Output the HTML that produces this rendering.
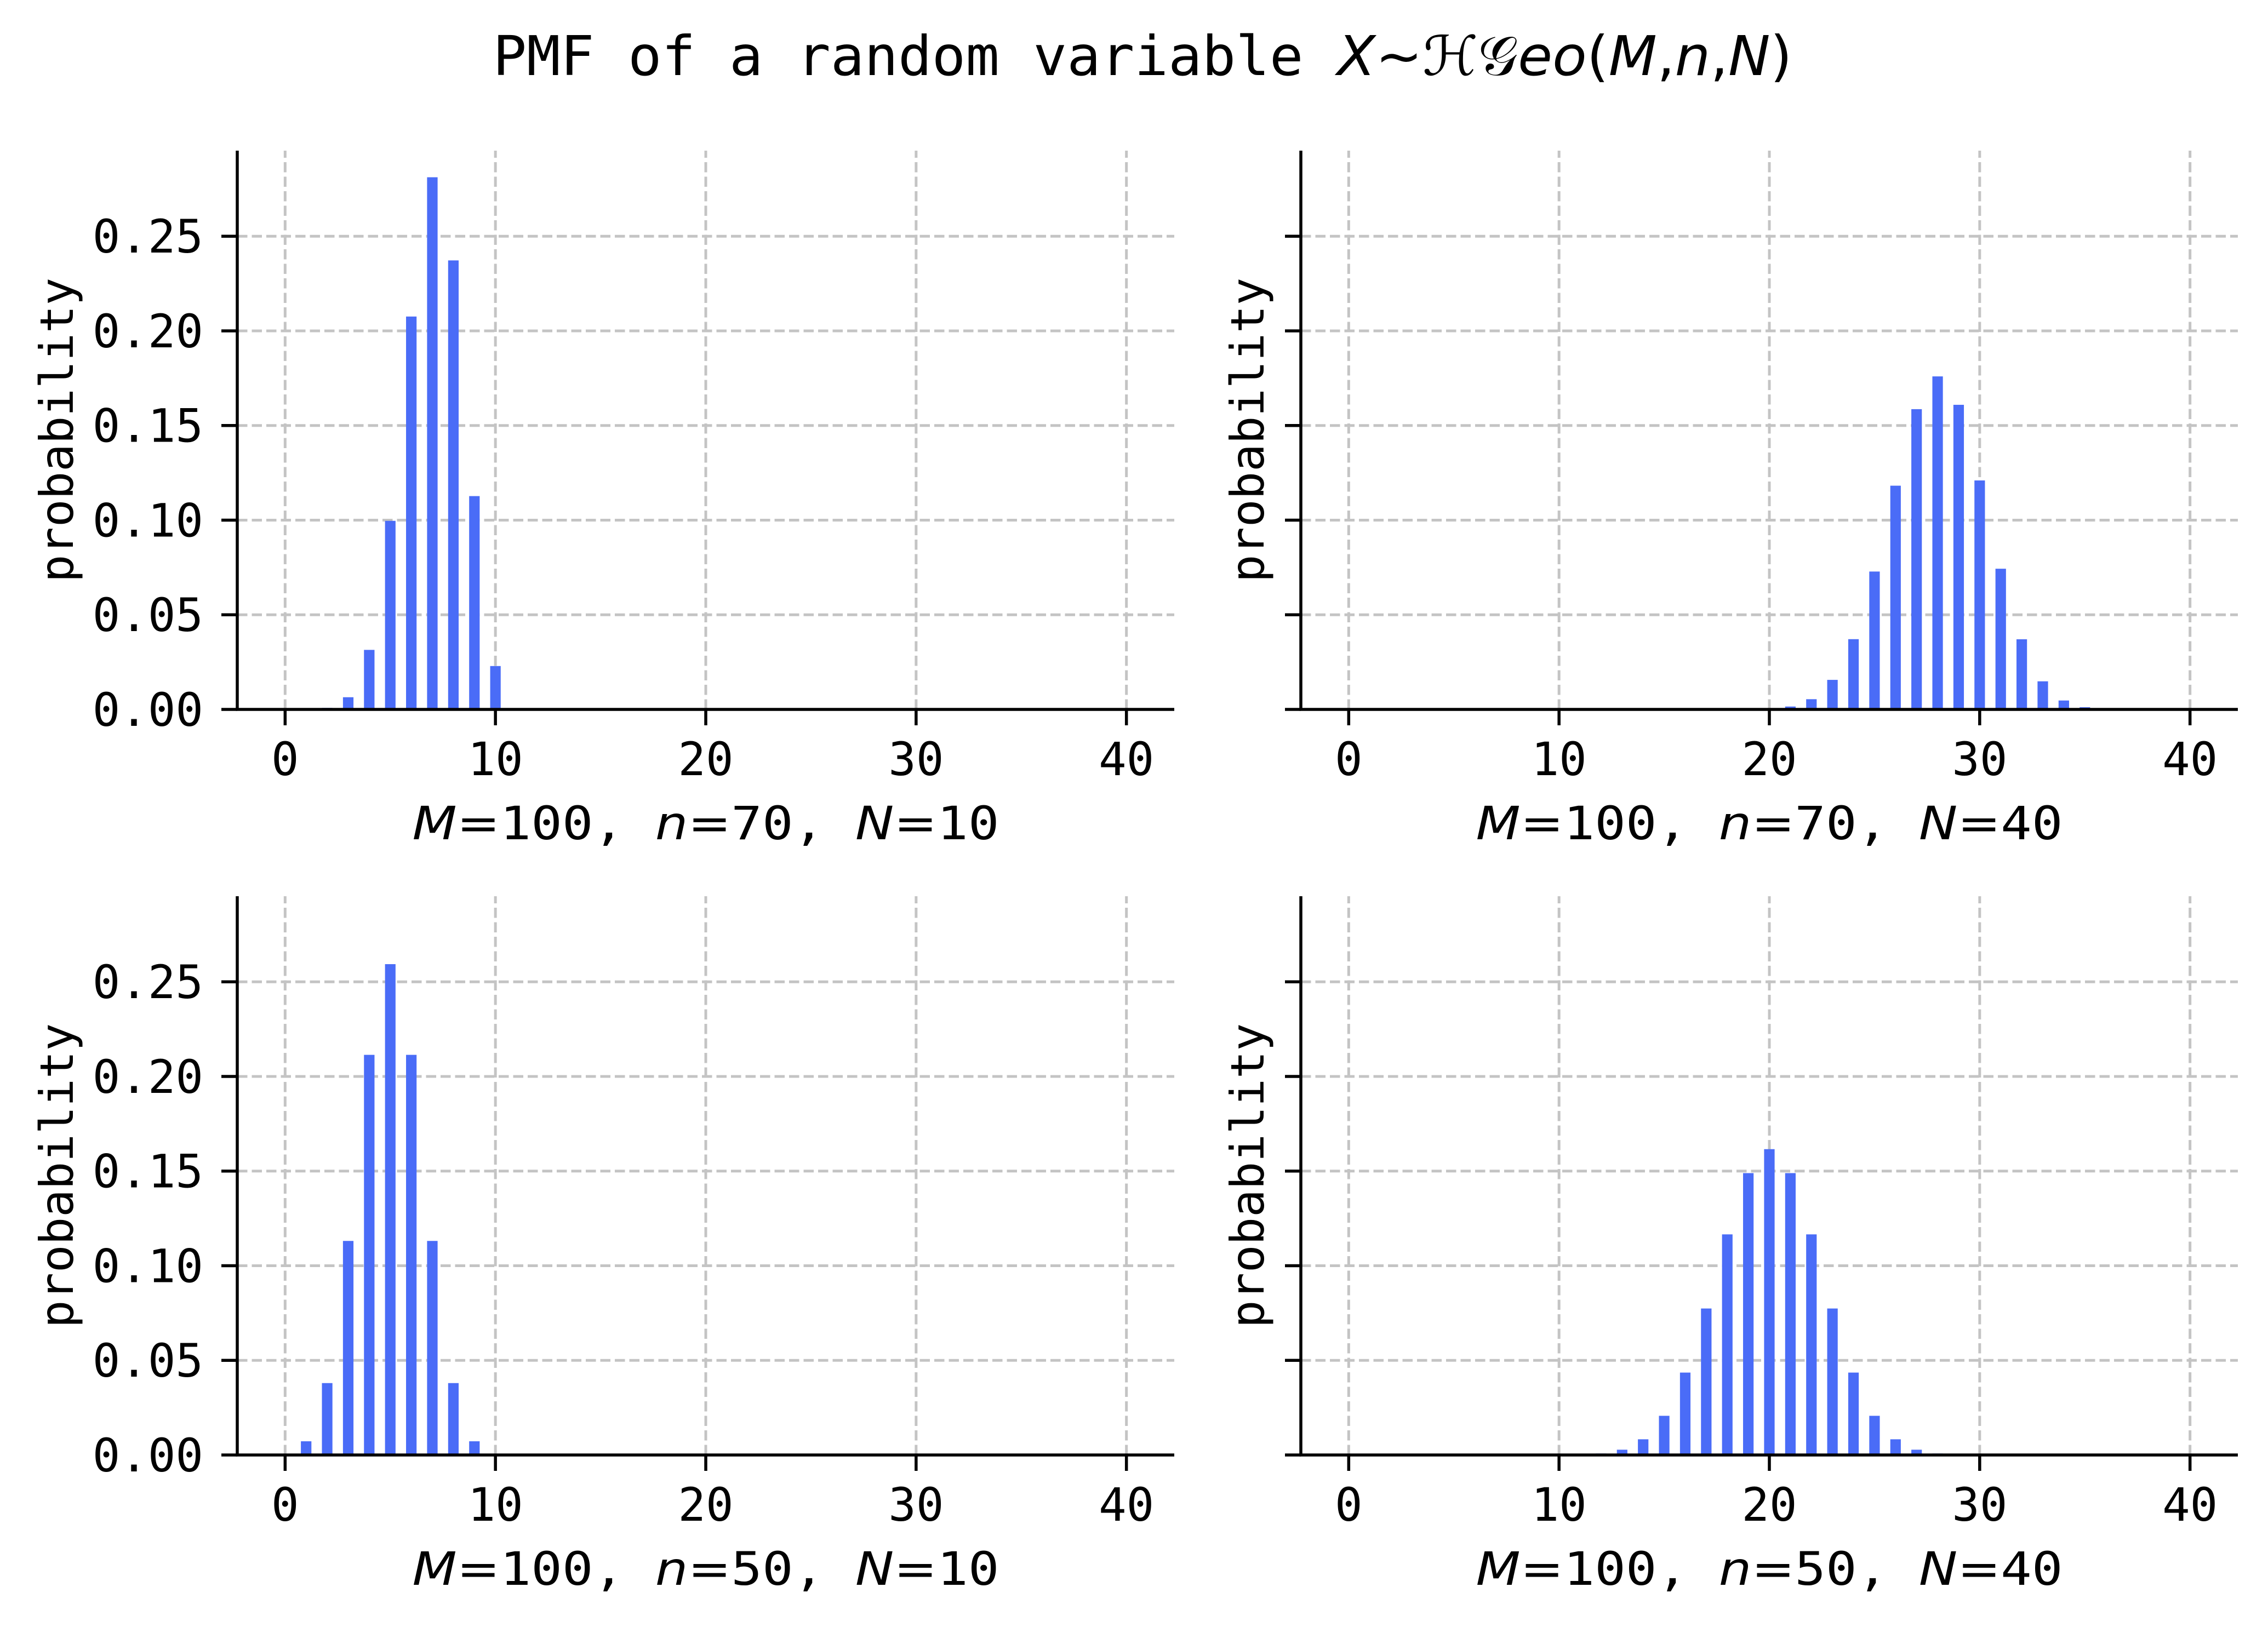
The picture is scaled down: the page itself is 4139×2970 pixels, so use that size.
<!DOCTYPE html>
<html><head><meta charset="utf-8"><style>html,body{margin:0;padding:0;background:#fff}svg{display:block}</style></head>
<body>
<svg id="s" xmlns="http://www.w3.org/2000/svg" width="4139" height="2970" viewBox="0 0 4139 2970" font-family="'DejaVu Sans Mono','Liberation Mono',monospace">
<rect width="4139" height="2970" fill="#fff"/>
<text x="2085" y="137" font-size="100" text-anchor="middle" textLength="2371" lengthAdjust="spacingAndGlyphs">PMF of a random variable <tspan font-family="'DejaVu Sans',sans-serif" font-style="italic">X</tspan><tspan font-family="'DejaVu Sans',sans-serif">~ℋ𝒢</tspan><tspan font-family="'DejaVu Sans',sans-serif" font-style="italic">eo</tspan><tspan font-family="'DejaVu Sans',sans-serif">(</tspan><tspan font-family="'DejaVu Sans',sans-serif" font-style="italic">M</tspan><tspan font-family="'DejaVu Sans',sans-serif">,</tspan><tspan font-family="'DejaVu Sans',sans-serif" font-style="italic">n</tspan><tspan font-family="'DejaVu Sans',sans-serif">,</tspan><tspan font-family="'DejaVu Sans',sans-serif" font-style="italic">N</tspan><tspan font-family="'DejaVu Sans',sans-serif">)</tspan></text>
</svg>
<script>
(function(){
var s=document.getElementById('s'),NS='http://www.w3.org/2000/svg';
function el(t,a,txt){var e=document.createElementNS(NS,t);for(var k in a)e.setAttribute(k,a[k]);if(txt!==undefined)e.textContent=txt;s.appendChild(e);return e;}
function lc(n,k){if(k<0||k>n)return -Infinity;var r=0;for(var i=1;i<=k;i++)r+=Math.log(n-k+i)-Math.log(i);return r;}
function pmf(M,n,N,k){return Math.exp(lc(n,k)+lc(M-n,N-k)-lc(M,N));}
var panels=[{L:433,B:1295,n:70,N:10,yt:true},{L:2374,B:1295,n:70,N:40,yt:false},{L:433,B:2656,n:50,N:10,yt:true},{L:2374,B:2656,n:50,N:40,yt:false}];
var W=1710,H=1020,xmin=-2.275,xs=W/44.55;
var ymax=0;panels.forEach(function(p){for(var k=0;k<=40;k++)ymax=Math.max(ymax,pmf(100,p.n,p.N,k));});
var ytop=ymax*1.05,ys=H/ytop;
panels.forEach(function(p){
 var X=function(v){return p.L+(v-xmin)*xs;},Y=function(v){return p.B-v*ys;};
 for(var t=0;t<=40;t+=10){el('line',{x1:X(t),x2:X(t),y1:p.B,y2:p.B-H,stroke:'#c4c4c4','stroke-width':5,'stroke-dasharray':'18.5 8'});}
 for(var v=0;v<=0.25001;v+=0.05){el('line',{x1:p.L,x2:p.L+W,y1:Y(v),y2:Y(v),stroke:'#c4c4c4','stroke-width':5,'stroke-dasharray':'18.5 8'});}
 for(var k=0;k<=40;k++){var q=pmf(100,p.n,p.N,k);if(q*ys>0.3)el('rect',{x:X(k)-xs*0.25,y:Y(q),width:xs*0.5,height:q*ys,fill:'#4a6cf7'});}
 el('line',{x1:p.L,x2:p.L,y1:p.B+2.5,y2:p.B-H,stroke:'#000','stroke-width':5.5});
 el('line',{x1:p.L-2.5,x2:p.L+W,y1:p.B,y2:p.B,stroke:'#000','stroke-width':5.5});
 for(var t=0;t<=40;t+=10){el('line',{x1:X(t),x2:X(t),y1:p.B,y2:p.B+29,stroke:'#000','stroke-width':5.5});
  el('text',{x:X(t),y:p.B+120,'font-size':84,'text-anchor':'middle'},String(t));}
 for(var i=0;i<=5;i++){var v=i*0.05;el('line',{x1:p.L-29,x2:p.L,y1:Y(v),y2:Y(v),stroke:'#000','stroke-width':5.5});
  if(p.yt)el('text',{x:p.L-62,y:Y(v)+30,'font-size':84,'text-anchor':'end'},v.toFixed(2));}
 var cx=p.L+W/2;
 var t=el('text',{x:cx,y:p.B+237,'font-size':84,'text-anchor':'middle',textLength:1071,lengthAdjust:'spacingAndGlyphs'});
 t.innerHTML='<tspan font-family="\'DejaVu Sans\',sans-serif" font-style="italic">M</tspan><tspan font-family="\'DejaVu Sans\',sans-serif">=</tspan>100, <tspan font-family="\'DejaVu Sans\',sans-serif" font-style="italic">n</tspan><tspan font-family="\'DejaVu Sans\',sans-serif">=</tspan>'+p.n+', <tspan font-family="\'DejaVu Sans\',sans-serif" font-style="italic">N</tspan><tspan font-family="\'DejaVu Sans\',sans-serif">=</tspan>'+p.N;
 var yl=p.yt?p.L-329:p.L-97, yc=p.B-H/2;
 el('text',{x:yl,y:yc,'font-size':84,'text-anchor':'middle','dominant-baseline':'central',transform:'rotate(-90 '+yl+' '+yc+')'},'probability');
});
})();
</script>
</body></html>
